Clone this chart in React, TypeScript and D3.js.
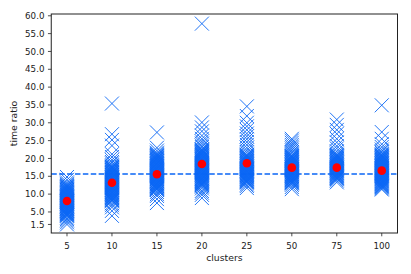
import React from "react";
import * as d3 from "d3";

const categories = ["5", "10", "15", "20", "25", "50", "75", "100"];

const pts5 = [14.8, 14.0, 13.3, 12.9,
  3.9, 4.2, 4.4, 4.7, 4.9, 5.1, 5.4, 5.6, 5.8, 6.1, 6.3, 6.5, 6.8, 7.0, 7.2, 7.5, 7.7, 7.9, 8.1, 8.3,
  8.6, 8.8, 9.0, 9.3, 9.5, 9.7, 10.0, 10.2, 10.4, 10.7, 10.9, 11.1, 11.4, 11.6, 11.8, 12.1, 12.3, 12.6,
  4.05, 4.55, 5.25, 5.95, 6.65, 7.35, 8.0, 8.45, 9.15, 9.85, 10.55, 11.25, 11.95,
  3.4, 3.0, 2.6, 2.1, 1.5];
const pts10 = [35.4, 26.8, 25.2, 23.6, 21.2, 20.4, 19.6, 19.0, 18.6,
  8.0, 8.2, 8.5, 8.7, 8.9, 9.2, 9.4, 9.6, 9.9, 10.1, 10.3, 10.6, 10.8, 11.0, 11.3, 11.5, 11.7, 12.0,
  12.2, 12.4, 12.7, 12.9, 13.1, 13.4, 13.6, 13.8, 14.1, 14.3, 14.5, 14.8, 15.0, 15.2, 15.5, 15.7, 15.9,
  16.2, 16.4, 16.6, 16.9, 17.1, 17.3, 17.6, 17.8, 18.1,
  8.35, 9.05, 9.75, 10.45, 11.15, 11.85, 12.55, 13.25, 13.95, 14.65, 15.35, 16.05, 16.75, 17.45,
  7.4, 6.9, 6.3, 5.3, 3.9];
const pts15 = [27.3, 23.0, 22.2, 21.6, 21.3,
  11.2, 11.4, 11.7, 11.9, 12.1, 12.4, 12.6, 12.8, 13.1, 13.3, 13.5, 13.8, 14.0, 14.2, 14.5, 14.7, 14.9,
  15.2, 15.4, 15.6, 15.9, 16.1, 16.3, 16.6, 16.8, 17.0, 17.3, 17.5, 17.7, 18.0, 18.2, 18.4, 18.7, 18.9,
  19.1, 19.4, 19.6, 19.8, 20.1, 20.3, 20.5, 20.8, 21.0,
  11.55, 12.25, 12.95, 13.65, 14.35, 15.05, 15.75, 16.45, 17.15, 17.85, 18.55, 19.25, 19.95, 20.65,
  10.6, 10.0, 9.5, 8.6, 7.5];
const pts20 = [57.8, 30.1, 28.7, 27.6, 26.4, 25.5, 24.8, 24.2, 23.6, 23.2,
  12.1, 12.4, 12.6, 12.8, 13.1, 13.3, 13.5, 13.8, 14.0, 14.2, 14.5, 14.7, 14.9, 15.2, 15.4, 15.6, 15.9,
  16.1, 16.3, 16.6, 16.8, 17.0, 17.3, 17.5, 17.7, 18.0, 18.2, 18.4, 18.7, 18.9, 19.1, 19.4, 19.6, 19.8,
  20.1, 20.3, 20.5, 20.8, 21.0, 21.2, 21.5, 21.7, 21.9, 22.2, 22.4, 22.6,
  12.95, 13.65, 14.35, 15.05, 15.75, 16.45, 17.15, 17.85, 18.55, 19.25, 19.95, 20.65, 21.35, 22.05,
  11.6, 10.9, 10.4, 9.8, 8.9];
const pts25 = [34.6, 31.9, 30.0, 29.0, 28.0, 27.0, 26.2, 25.4, 24.6, 23.8, 23.0, 22.3, 21.7,
  13.2, 13.4, 13.7, 13.9, 14.1, 14.4, 14.6, 14.8, 15.1, 15.3, 15.5, 15.8, 16.0, 16.2, 16.5, 16.7, 16.9,
  17.2, 17.4, 17.6, 17.9, 18.1, 18.3, 18.6, 18.8, 19.0, 19.3, 19.5, 19.7, 20.0, 20.2, 20.4, 20.7, 20.9, 21.1,
  13.55, 14.25, 14.95, 15.65, 16.35, 17.05, 17.75, 18.45, 19.15, 19.85, 20.55,
  12.7, 12.3, 11.7];
const pts50 = [25.5, 25.0, 24.4, 23.8, 23.3, 22.8, 22.3, 21.8, 21.4,
  13.0, 13.2, 13.5, 13.7, 13.9, 14.2, 14.4, 14.6, 14.9, 15.1, 15.3, 15.6, 15.8, 16.0, 16.3, 16.5, 16.7,
  17.0, 17.2, 17.4, 17.7, 17.9, 18.1, 18.4, 18.6, 18.8, 19.1, 19.3, 19.5, 19.8, 20.0, 20.2, 20.5, 20.7, 20.9,
  13.35, 14.05, 14.75, 15.45, 16.15, 16.85, 17.55, 18.25, 18.95, 19.65, 20.35,
  12.6, 12.0, 11.4];
const pts75 = [30.9, 29.4, 28.0, 26.9, 25.5, 24.5, 23.5, 22.8, 22.0, 21.4,
  14.2, 14.4, 14.7, 14.9, 15.1, 15.4, 15.6, 15.8, 16.1, 16.3, 16.5, 16.8, 17.0, 17.2, 17.5, 17.7, 17.9,
  18.2, 18.4, 18.6, 18.9, 19.1, 19.3, 19.6, 19.8, 20.0, 20.3, 20.5, 20.7, 21.0,
  14.55, 15.25, 15.95, 16.65, 17.35, 18.05, 18.75, 19.45, 20.15, 20.85,
  13.8, 13.3];
const pts100 = [34.9, 27.4, 25.5, 24.0, 23.2, 22.5, 22.0, 21.6,
  12.1, 12.4, 12.6, 12.8, 13.1, 13.3, 13.5, 13.8, 14.0, 14.2, 14.5, 14.7, 14.9, 15.2, 15.4, 15.6, 15.9,
  16.1, 16.3, 16.6, 16.8, 17.0, 17.3, 17.5, 17.7, 18.0, 18.2, 18.4, 18.7, 18.9, 19.1, 19.4, 19.6, 19.8,
  20.1, 20.3, 20.5, 20.8, 21.0, 21.2,
  12.25, 12.95, 13.65, 14.35, 15.05, 15.75, 16.45, 17.15, 17.85, 18.55, 19.25, 19.95, 20.65,
  11.9, 11.6, 11.3];

const points = [pts5, pts10, pts15, pts20, pts25, pts50, pts75, pts100];
const means = [8.08, 13.2, 15.57, 18.46, 18.65, 17.42, 17.42, 16.58];
const yTicks = [1.5, 5, 10, 15, 20, 25, 30, 35, 40, 45, 50, 55, 60];

const W = 411;
const H = 274;
const BLUE = "#0a66f5";
const FONT = "DejaVu Sans, sans-serif";

export default function App() {
  const x = d3.scaleLinear().domain([-0.35, 7.35]).range([51.25, 397.5]);
  const y = d3.scaleLinear().domain([-0.9, 60.5]).range([233, 14]);
  const [x0, x1] = x.range();
  const [y0, y1] = y.range();
  const overall = d3.mean(means) as number;
  const xMark = "M-7,-7L7,7M-7,7L7,-7";

  return (
    <svg width={W} height={H} style={{ position: "absolute", left: 0, top: 0, background: "#fff" }}
      fontFamily={FONT}>
      <rect x={0} y={0} width={W} height={H} fill="#fff" />
      <g>
        {points.map((arr, i) =>
          arr.map((v, j) => (
            <path key={`${i}-${j}`} d={xMark} transform={`translate(${x(i)},${y(v)})`}
              stroke={BLUE} strokeWidth={0.9} fill="none" />
          ))
        )}
      </g>
      <line x1={x0} x2={x1} y1={y(overall)} y2={y(overall)} stroke={BLUE} strokeWidth={1.5}
        strokeDasharray="5.5 2.4" />
      <g>
        {means.map((m, i) => (
          <circle key={i} cx={x(i)} cy={y(m)} r={4.3} fill="#ff0000" />
        ))}
      </g>
      <rect x={x0} y={y1} width={x1 - x0} height={y0 - y1} fill="none" stroke="#222" strokeWidth={1} />
      <g fontSize={8.7} fill="#222">
        {yTicks.map((t) => (
          <g key={t}>
            <line x1={x0 - 3.3} x2={x0} y1={y(t)} y2={y(t)} stroke="#222" strokeWidth={0.8} />
            <text x={x0 - 6.8} y={y(t) + 3.1} textAnchor="end">{d3.format(".1f")(t)}</text>
          </g>
        ))}
        {categories.map((c, i) => (
          <g key={c}>
            <line x1={x(i)} x2={x(i)} y1={y0} y2={y0 + 3.3} stroke="#222" strokeWidth={0.8} />
            <text x={x(i)} y={248.5} textAnchor="middle">{c}</text>
          </g>
        ))}
      </g>
      <text x={(x0 + x1) / 2} y={261} textAnchor="middle" fontSize={9.3} fill="#222">clusters</text>
      <text transform={`translate(17.3,${(y0 + y1) / 2}) rotate(-90)`} textAnchor="middle" fontSize={9.3}
        fill="#222">time ratio</text>
    </svg>
  );
}
